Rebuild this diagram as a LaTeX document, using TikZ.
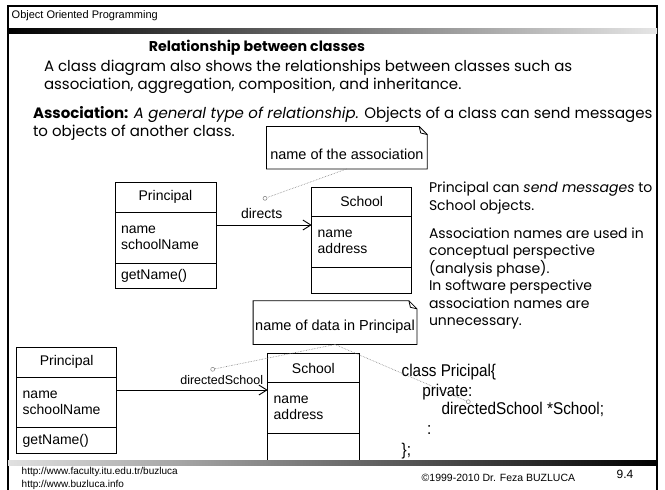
\documentclass[tikz,border=0pt]{standalone}
\usepackage{fontspec}
\setmainfont{Liberation Sans}
\newfontfamily\comicf{Poppins}
\newfontfamily\umlf{Liberation Sans}
\newfontfamily\codef[FakeStretch=0.9]{Liberation Sans}
\usetikzlibrary{arrows.meta,calc}
\begin{document}
\begin{tikzpicture}[x=1pt,y=-1pt,
  txt/.style={inner sep=0pt, outer sep=0pt, anchor=west},
  btxt/.style={inner sep=0pt, outer sep=0pt, anchor=base west},
  bodytxt/.style={btxt, font=\comicf\fontsize{15}{18}\selectfont},
  sidetxt/.style={btxt, font=\comicf\fontsize{14}{17}\selectfont},
  umltxt/.style={font=\umlf\fontsize{14}{16}\selectfont},
  codetxt/.style={btxt, font=\codef\fontsize{17}{20}\selectfont},
  foot/.style={txt, font=\umlf\fontsize{10}{12}\selectfont},
  comp/.style={draw, line width=0.9pt, inner sep=0pt, outer sep=0pt, umltxt},
  attrcomp/.style={comp, align=left, inner xsep=6pt, text width=#1},
  notebox/.style={line width=0.8pt},
  notelink/.style={densely dotted, line width=0.6pt, gray},
  assoc/.style={line width=0.9pt, -{Straight Barb[length=8pt,width=10pt]}},
  anchorc/.style={circle, draw=gray, fill=white, inner sep=0pt, minimum size=4pt, line width=0.5pt}
]
\useasboundingbox (0,0) rectangle (665,490);
\fill[white] (0,0) rectangle (665,490);

% frame and header
\draw[line width=2.5pt] (8,495) -- (8,6) -- (657,6) -- (657,495);
\shade[left color=black, right color=black!10] (8,28) rectangle (657,33);
\node[txt, font=\umlf\fontsize{11}{13}\selectfont] (hdr) at (11.7,16) {Object Oriented Programming};

% title and body text
\node[btxt, anchor=base, font=\comicf\bfseries\fontsize{14.2}{17}\selectfont] (title) at (257,51) {Relationship between classes};
\node[bodytxt] (l1) at (44,71) {A class diagram also shows the relationships between classes such as};
\node[bodytxt] (l2) at (44,89) {association, aggregation, composition, and inheritance.};
\node[bodytxt] (l3) at (33,118) {\textbf{Association:} \textit{A general type of relationship.} Objects of a class can send messages};
\node[bodytxt] (l4) at (33,136) {to objects of another class.};

% right text
\node[sidetxt] (r1) at (429,192.5) {Principal can \textit{send messages} to};
\node[sidetxt] (r2) at (429,210) {School objects.};
\node[sidetxt] (r3) at (429,238) {Association names are used in};
\node[sidetxt] (r4) at (429,255.5) {conceptual perspective};
\node[sidetxt] (r5) at (429,273) {(analysis phase).};
\node[sidetxt] (r6) at (429,290.5) {In software perspective};
\node[sidetxt] (r7) at (429,308) {association names are};
\node[sidetxt] (r8) at (429,325.5) {unnecessary.};

% diagram 1
\node[comp, minimum width=101pt, minimum height=30pt] (p1n) at (165.5,197) {Principal};
\node[attrcomp=89pt, minimum height=51pt] (p1a) at (165.5,237.5) {name\\schoolName};
\node[attrcomp=89pt, minimum height=25pt] (p1m) at (165.5,275.5) {getName()};

\node[comp, minimum width=100pt, minimum height=28.7pt] (s1n) at (361.7,201.65) {School};
\node[attrcomp=88pt, minimum height=51pt] (s1a) at (361.7,241.5) {name\\address};
\node[attrcomp=88pt, minimum height=26.3pt] (s1m) at (361.7,280.15) {};

\draw[assoc] ([yshift=12.5pt]p1a.east) -- ([yshift=16.5pt]s1a.west);
\node[umltxt, inner sep=0pt] (lbl1) at (261.7,213.3) {directs};

\node[minimum width=160.3pt, minimum height=42pt, inner sep=0pt] (n1) at (346.85,147.7) {};
\node[font=\umlf\fontsize{14.5}{16}\selectfont, inner sep=0pt] (n1t) at (346.85,154) {name of the association};

% diagram 2
\node[comp, minimum width=100pt, minimum height=30pt] (p2n) at (66.7,362.3) {Principal};
\node[attrcomp=88pt, minimum height=50.4pt] (p2a) at (66.7,402.5) {name\\schoolName};
\node[attrcomp=88pt, minimum height=25.6pt] (p2m) at (66.7,440.5) {getName()};

\node[comp, minimum width=91.3pt, minimum height=29.4pt] (s2n) at (313.35,368) {School};
\node[attrcomp=79.3pt, minimum height=50.6pt] (s2a) at (313.35,408) {name\\address};
\node[attrcomp=79.3pt, minimum height=29.7pt] (s2m) at (313.35,448.15) {};

\draw[assoc] ([yshift=12.5pt]p2a.east) -- ([yshift=18pt]s2a.west);
\node[font=\umlf\fontsize{12.5}{14}\selectfont, inner sep=0pt] (lbl2) at (221.7,380) {directedSchool};

\node[minimum width=163.4pt, minimum height=43.3pt, inner sep=0pt] (n2) at (335,322.65) {};
\node[font=\umlf\fontsize{14.5}{16}\selectfont, inner sep=0pt] (n2t) at (335,327) {name of data in Principal};

% note outlines
\foreach \n in {n1,n2}{
  \draw[notebox] (\n.south west) -- (\n.south east) -- ([yshift=-8pt]\n.north east)
     -- ([xshift=-8pt]\n.north east) -- (\n.north west) -- cycle;
  \draw[notebox] ([xshift=-8pt]\n.north east) -- ([xshift=-6.5pt,yshift=-6.5pt]\n.north east) -- ([yshift=-8pt]\n.north east);
}

% code
\node[codetxt] (k1) at (401.7,376) {class Pricipal\{};
\node[codetxt] (k2) at (422.3,396) {private:};
\node[codetxt] (k3) at (441.7,414.3) {directedSchool *School;};
\node[codetxt, anchor=base] (k4) at (429.3,434) {:};
\node[codetxt] (k5) at (401.7,455) {\};};

% note links
\node[anchorc] (c1) at (265,198.3) {};
\node[anchorc] (c2) at (212.7,369.3) {};
\node[anchorc] (c3) at (468.3,401.7) {};
\draw[notelink] (n1.south) -- (c1);
\draw[notelink] (n2.south) -- (c2);
\draw[notelink] (n2.south) -- (c3);

% footer
\shade[left color=black!12, right color=black] (8,460) rectangle (657,465);
\node[foot] (f1) at (21.7,472) {http://www.faculty.itu.edu.tr/buzluca};
\node[foot] (f2) at (21.7,484.5) {http://www.buzluca.info};
\node[foot, font=\umlf\fontsize{10.5}{12}\selectfont] (f3) at (421.7,478) {©1999-2010  Dr. Feza BUZLUCA};
\node[foot, font=\umlf\fontsize{12}{14}\selectfont] (f4) at (616.7,474) {9.4};
\end{tikzpicture}
\end{document}
